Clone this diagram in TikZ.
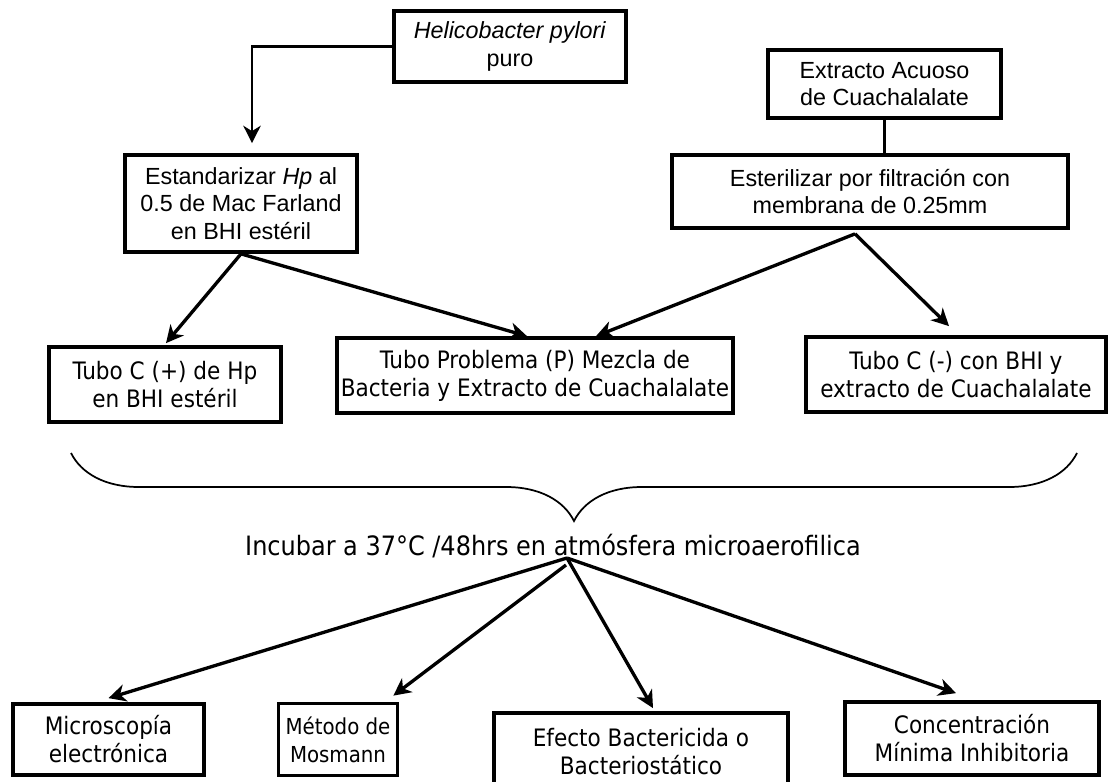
\documentclass[tikz,border=0pt]{standalone}
\usepackage{fontspec}
\setmainfont{Liberation Sans}
\newfontfamily\tahfont{DejaVu Sans Condensed}
\usetikzlibrary{arrows.meta,calc,decorations.pathreplacing}

\begin{document}
\begin{tikzpicture}[
  x=0.75pt, y=-0.75pt,
  box/.style={draw,line width=2.8pt,align=center,inner sep=0pt,fill=white,font=\fontsize{17.5}{20.5}\selectfont},
  tbox/.style={box,font=\tahfont\fontsize{18}{21}\selectfont},
  sz/.style 2 args={minimum width=#1*0.75pt,minimum height=#2*0.75pt},
  flow/.style={-{Stealth[length=13pt,width=13pt,inset=4pt]},line width=2.5pt},
  link/.style={line width=1.8pt},
  bracket/.style={decorate,decoration={brace,amplitude=51pt},line width=1.3pt},
  step label/.style={font=\tahfont\fontsize{20}{24}\selectfont,inner sep=0pt}
]
\useasboundingbox (0,0) rectangle (1109,781);

% preparacion
\node[box,sz={232}{71}] (hp) at (510,46.5) {\textit{Helicobacter pylori}\\puro};
\node[box,sz={232}{97}] (est) at (241,203.5) {Estandarizar \textit{Hp} al\\0.5 de Mac Farland\\en BHI estéril};
\node[box,sz={233}{68}] (ext) at (884.5,84) {Extracto Acuoso\\de Cuachalalate};
\node[box,sz={396}{73}] (ster) at (870,191.5) {Esterilizar por filtración con\\membrana de 0.25mm};

% tubos
\node[tbox,sz={232}{75}] (cpos) at (165,384.5) {Tubo C (+) de Hp\\en BHI estéril};
\node[tbox,sz={396}{75}] (prob) at (535,375.5) {Tubo Problema (P) Mezcla de\\Bacteria y Extracto de Cuachalalate};
\node[tbox,sz={300}{75}] (cneg) at (956,374.5) {Tubo C (-) con BHI y\\extracto de Cuachalalate};

% incubacion
\coordinate (bl) at (71,453);
\coordinate (br) at (1077,453);
\draw[bracket] (br) -- (bl);
\node[step label] (inc) at (553,546) {Incubar a 37°C /48hrs en atmósfera microaerofilica};
\coordinate (apex) at (567,558);

% pruebas
\node[tbox,sz={191}{71}] (micro) at (108.5,739.5) {Microscopía\\electrónica};
\node[tbox,sz={119}{72},font=\tahfont\fontsize{16.5}{21}\selectfont] (meto) at (338,739.5) {Método de\\Mosmann};
\node[tbox,sz={294}{78}] (efe) at (641,752) {Efecto Bactericida o\\Bacteriostático};
\node[tbox,sz={254}{73}] (conc) at (972,738.5) {Concentración\\Mínima Inhibitoria};

% flechas
\draw[flow,line width=2.1pt] (hp.west) -| ($(est.north)+(11,-10)$);
\draw[link] (ext.south) -- (ext.south |- ster.north);
\draw[flow] (est.south) -- ($(cpos.north)+(1,-2)$);
\draw[flow] (est.south) -- ($(prob.north)+(-8,0)$);
\draw[flow] ($(ster.south)+(-15,4)$) -- ($(prob.north)+(61,0)$);
\draw[flow] ($(ster.south)+(-15,4)$) -- ($(cneg.north)+(-7,-9)$);

\draw[flow] (apex) -- ($(micro.north)+(0,-4)$);
\draw[flow] ($(apex)+(-1,7)$) -- ($(meto.north east)+(-6,-6)$);
\draw[flow] (apex) -- ($(efe.north)+(12,-3)$);
\draw[flow] (apex) -- ($(conc.north)+(-16,-7)$);
\end{tikzpicture}
\end{document}
